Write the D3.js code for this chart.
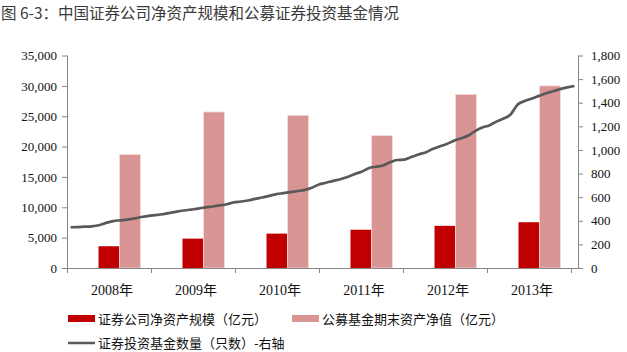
<!DOCTYPE html>
<html>
<head>
<meta charset="utf-8">
<script src="https://cdn.jsdelivr.net/npm/d3@7"></script>
<style>
  body { margin: 0; background: white; }
  text { font-family: "Liberation Serif", "Noto Sans CJK SC", serif; }
  .cjk { font-family: "Noto Sans CJK SC", sans-serif; }
</style>
</head>
<body>
<div id="chart"></div>
<script>
const years = ["2008年", "2009年", "2010年", "2011年", "2012年", "2013年"];
const netAssets = [3585, 4839, 5663, 6302, 6943, 7538];
const fundNAV = [18700, 25700, 25150, 21800, 28600, 30000];
// monthly fund count, Jan 2008 - Dec 2013
const fundCount = [
  345, 347, 350, 353, 362, 382, 397, 404, 410, 420, 432, 442,
  448, 455, 467, 478, 487, 495, 503, 513, 521, 530, 540, 556,
  563, 572, 585, 597, 611, 626, 634, 643, 652, 662, 680, 708,
  722, 738, 752, 770, 795, 815, 845, 858, 868, 895, 915, 918,
  940, 962, 978, 1008, 1030, 1050, 1078, 1098, 1120, 1160, 1190, 1208,
  1240, 1266, 1300, 1385, 1415, 1435, 1458, 1480, 1497, 1515, 1530, 1542
];
const leftTicks = d3.range(0, 35001, 5000);
const rightTicks = d3.range(0, 1801, 200);
const legendNames = ["证券公司净资产规模（亿元）", "公募基金期末资产净值（亿元）", "证券投资基金数量（只数）-右轴"];

const width = 627, height = 352;
const plotLeft = 67, plotRight = 578, plotTop = 55.5, plotBottom = 268;
const catRight = 571;

const svg = d3.select("#chart").append("svg")
    .attr("width", width)
    .attr("height", height);

svg.append("text")
    .attr("class", "cjk")
    .attr("x", 1)
    .attr("y", 18.5)
    .attr("font-size", 15.5)
    .attr("fill", "#3a3a3a")
    .text("图 6-3：中国证券公司净资产规模和公募证券投资基金情况");

const x = d3.scaleBand().domain(years).range([plotLeft, catRight]).paddingInner(0).paddingOuter(0);
const yL = d3.scaleLinear().domain([0, 35000]).range([plotBottom, plotTop]);
const yR = d3.scaleLinear().domain([0, 1800]).range([plotBottom, plotTop]);
const xm = d3.scaleBand().domain(d3.range(fundCount.length)).range([plotLeft, plotRight]);

// bars: three slots per category, first slot empty
const slot = x.bandwidth() / 4;
const g = svg.append("g");
g.selectAll(".b1").data(years).enter().append("rect")
    .attr("x", d => x(d) + slot * 1.5)
    .attr("y", (d, i) => yL(netAssets[i]))
    .attr("width", slot)
    .attr("height", (d, i) => plotBottom - yL(netAssets[i]))
    .attr("fill", "#C00000");
g.selectAll(".b2").data(years).enter().append("rect")
    .attr("x", d => x(d) + slot * 2.5)
    .attr("y", (d, i) => yL(fundNAV[i]))
    .attr("width", slot)
    .attr("height", (d, i) => plotBottom - yL(fundNAV[i]))
    .attr("fill", "#D99594")
    .attr("stroke", "#F2DCDB")
    .attr("stroke-width", 0.8);

// axes
const axisColor = "#868686";
const leftAxis = svg.append("g")
    .attr("transform", "translate(" + plotLeft + ",0)")
    .call(d3.axisLeft(yL).tickValues(leftTicks).tickSize(5).tickPadding(5).tickFormat(d3.format(",")));
const rightAxis = svg.append("g")
    .attr("transform", "translate(" + plotRight + ",0)")
    .call(d3.axisRight(yR).tickValues(rightTicks).tickSize(5).tickPadding(8).tickFormat(d3.format(",")));
[leftAxis, rightAxis].forEach(a => {
    a.attr("font-family", "Liberation Serif").attr("font-size", 13);
    a.select(".domain").attr("stroke", axisColor).attr("d", "M0.5," + plotTop + "V" + plotBottom);
    a.selectAll(".tick line").attr("stroke", axisColor);
    a.selectAll("text").attr("fill", "#111");
});

const xAxis = svg.append("g");
xAxis.append("line")
    .attr("x1", plotLeft).attr("x2", plotRight)
    .attr("y1", plotBottom + 0.5).attr("y2", plotBottom + 0.5)
    .attr("stroke", axisColor);
xAxis.selectAll(".xt").data(years.concat(["end"])).enter().append("line")
    .attr("x1", (d, i) => i < years.length ? x(d) + 0.5 : catRight + 0.5)
    .attr("x2", (d, i) => i < years.length ? x(d) + 0.5 : catRight + 0.5)
    .attr("y1", plotBottom).attr("y2", plotBottom + 5)
    .attr("stroke", axisColor);
xAxis.selectAll(".xl").data(years).enter().append("text")
    .attr("x", d => x(d) + x.bandwidth() / 2 + 3)
    .attr("y", plotBottom + 27)
    .attr("text-anchor", "middle")
    .attr("font-size", 14)
    .attr("fill", "#111")
    .text(d => d);

// line on right axis
const line = d3.line()
    .x((d, i) => xm(i) + xm.bandwidth() / 2)
    .y(d => yR(d))
    .curve(d3.curveMonotoneX);
svg.append("path")
    .datum(fundCount)
    .attr("d", line)
    .attr("fill", "none")
    .attr("stroke", "#595959")
    .attr("stroke-width", 2.7)
    .attr("stroke-linejoin", "round");

// legend
const leg = svg.append("g");
const legItems = [
    { x: 68, y: 319, type: "rect", color: "#C00000", name: legendNames[0] },
    { x: 292, y: 319, type: "rect", color: "#D99594", name: legendNames[1] },
    { x: 68, y: 343, type: "line", color: "#595959", name: legendNames[2] }
];
legItems.forEach(it => {
    if (it.type === "rect") {
        leg.append("rect").attr("x", it.x).attr("y", it.y - 4).attr("width", 27).attr("height", 7).attr("fill", it.color);
    } else {
        leg.append("line").attr("x1", it.x).attr("x2", it.x + 27).attr("y1", it.y).attr("y2", it.y)
            .attr("stroke", it.color).attr("stroke-width", 2.5);
    }
    leg.append("text")
        .attr("class", "cjk")
        .attr("x", it.x + 30)
        .attr("y", it.y + 4.5)
        .attr("font-size", 13)
        .attr("fill", "#111")
        .text(it.name);
});
</script>
</body>
</html>
